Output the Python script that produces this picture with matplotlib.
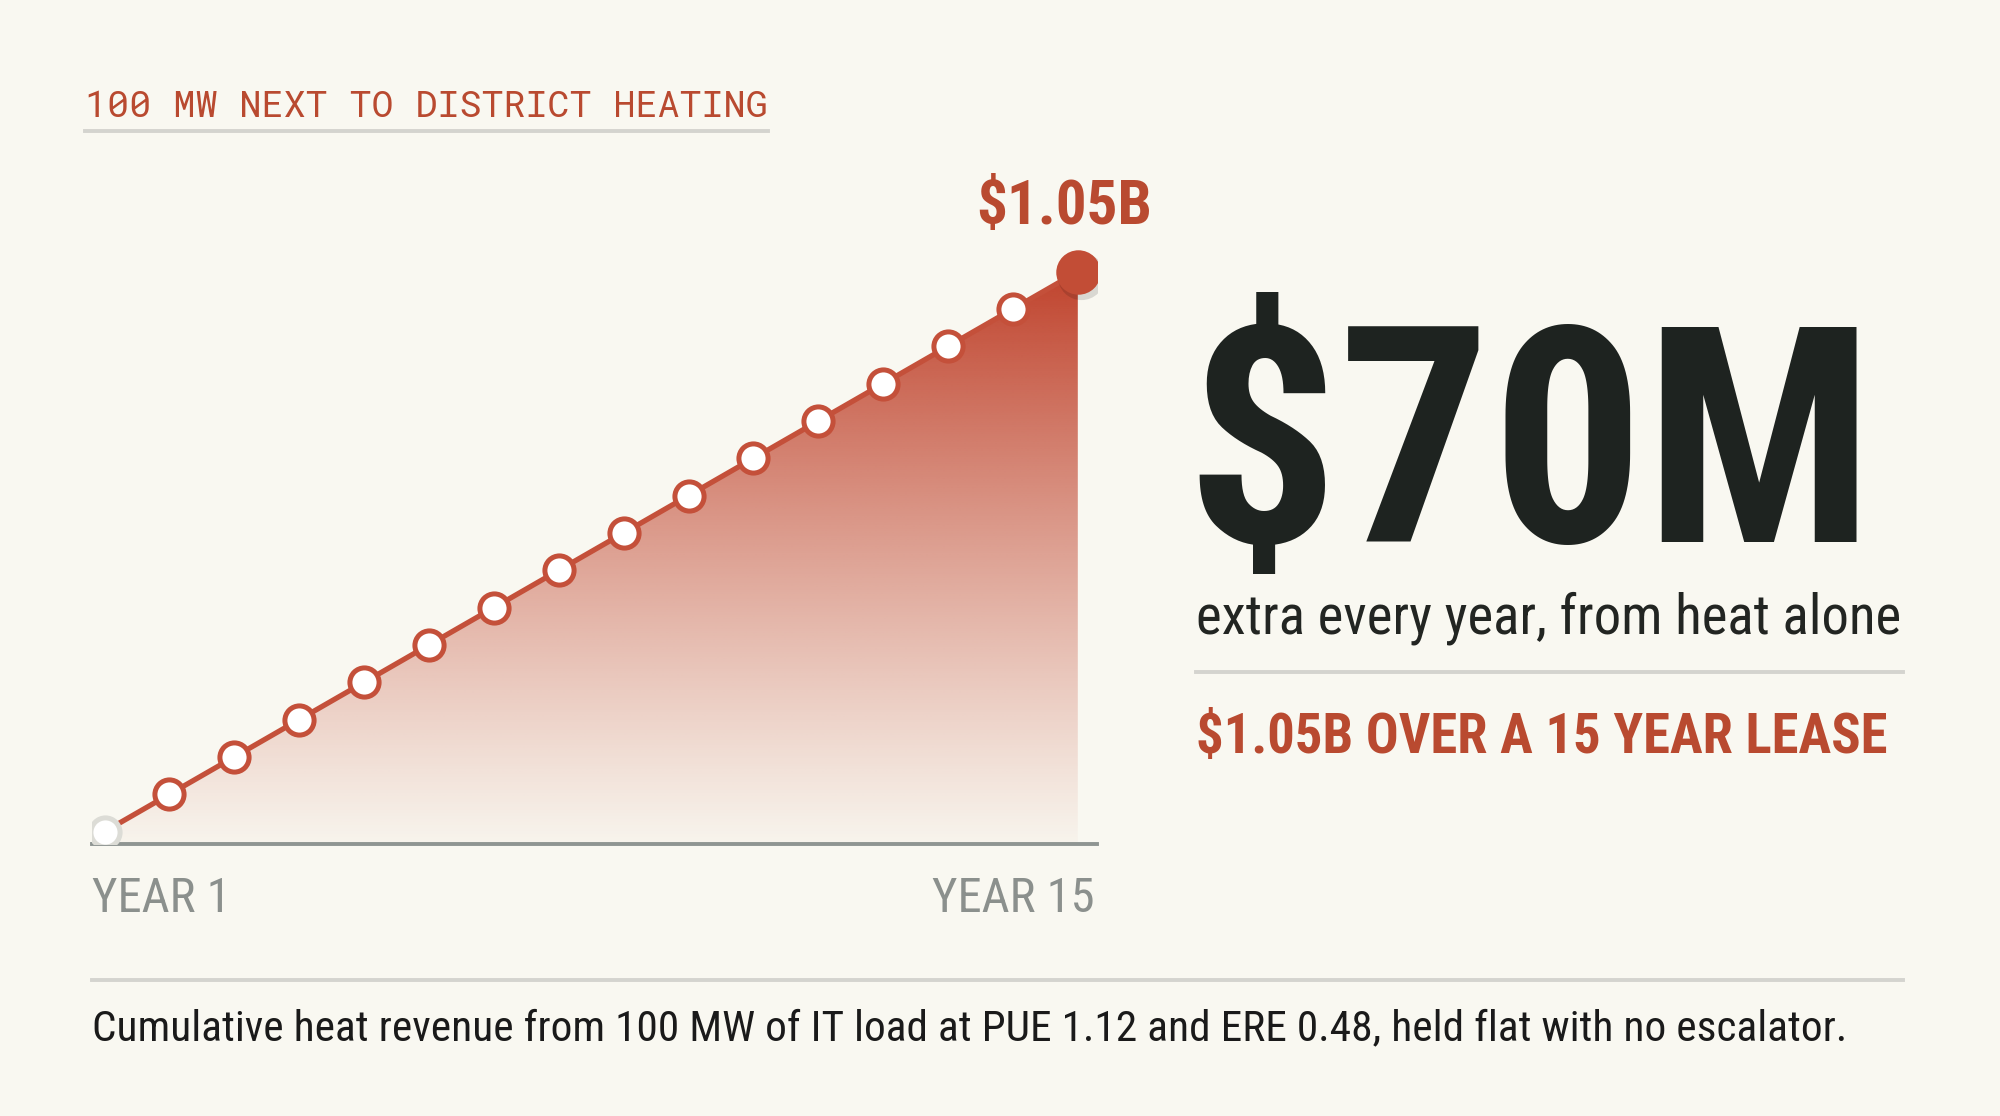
import numpy as np
import matplotlib
matplotlib.use('Agg')
from matplotlib import pyplot as plt
from matplotlib.patches import Polygon
from matplotlib.colors import to_rgb

# data: cumulative heat revenue, $M, year 0..15 (flat $70M per year)
years = list(range(16))
cumulative = [0, 70, 140, 210, 280, 350, 420, 490, 560, 630, 700, 770, 840, 910, 980, 1050]
start_label = 'YEAR 1'
end_label = 'YEAR 15'
end_value_label = '$1.05B'

bg = '#f9f8f1'
red = '#c4503a'
red_text = '#b94a30'
ink = '#1e2320'
grey_line = '#d4d4cf'
grey_text = '#8b908d'

narrow = ['Roboto Condensed', 'Liberation Sans', 'DejaVu Sans']
mono = ['Roboto Mono', 'DejaVu Sans Mono']

W, H = 1568, 875  # layout units (reference view)
fig = plt.figure(figsize=(20, 11.16), dpi=100, facecolor=bg)

def frac(x0, y0, x1, y1):
    return [x0 / W, 1 - y1 / H, (x1 - x0) / W, (y1 - y0) / H]

# chart axes
ax = fig.add_axes(frac(72, 150, 860, 662))
ax.set_facecolor('none')
px_per_year = (845 - 82) / 15
px_per_m = (652 - 213) / 1050
ax.set_xlim(-(82 - 72) / px_per_year, 15 + (860 - 845) / px_per_year)
ymin = -(662 - 652) / px_per_m
ax.set_ylim(ymin, 1050 + (213 - 150) / px_per_m)
for s in ['top', 'right', 'left']:
    ax.spines[s].set_visible(False)
ax.spines['bottom'].set_color('#8f9592')
ax.spines['bottom'].set_linewidth(2.8)
ax.set_xticks([])
ax.set_yticks([])

# gradient fill under the line
poly_pts = [(years[0], ymin)] + list(zip(years, cumulative)) + [(years[-1], ymin)]
poly = Polygon(poly_pts, closed=True, facecolor='none', edgecolor='none')
ax.add_patch(poly)
n = 256
alpha = np.linspace(1.0, 0.04, n) ** 1.15
img = np.zeros((n, 2, 4))
img[:, :, :3] = to_rgb('#c0432d')
img[:, :, 3] = alpha[:, None]
im = ax.imshow(img, extent=[years[0], years[-1], ymin, cumulative[-1]],
               aspect='auto', origin='upper', zorder=1, interpolation='bilinear')
im.set_clip_path(poly)

ax.plot(years, cumulative, color=red, lw=3.8, zorder=3, solid_capstyle='round')
ax.plot(years[1:-1], cumulative[1:-1], 'o', ms=21, mfc='white', mec=red, mew=3.6, zorder=4)
ax.plot(years[0], cumulative[0], 'o', ms=21, mfc='white', mec='#dcdcd6', mew=3.6, zorder=4)
ax.plot(years[-1] + 0.05, cumulative[-1] - 9, 'o', ms=34, color='#00000020', mew=0, zorder=4)
ax.plot(years[-1], cumulative[-1], 'o', ms=32, color='#c24d36', mew=0, zorder=5)

# overlay for text and rules
ov = fig.add_axes([0, 0, 1, 1])
ov.set_xlim(0, W)
ov.set_ylim(H, 0)
ov.axis('off')
ov.set_facecolor('none')

ov.text(67, 92, '100 MW NEXT TO DISTRICT HEATING', family=mono, fontsize=26.5,
        color=red_text, va='baseline', ha='left')
ov.plot([67, 602], [103, 103], color=grey_line, lw=2.8)

ov.text(834, 176, end_value_label, family=narrow, weight='bold', fontsize=44,
        color=red_text, ha='center', va='baseline')

ov.text(72, 715, start_label, family=narrow, fontsize=35, color=grey_text, va='baseline')
ov.text(858, 715, end_label, family=narrow, fontsize=35, color=grey_text, va='baseline', ha='right')

ov.text(929, 425, '$70M', family=narrow, weight='bold', fontsize=218, color=ink, va='baseline')
ov.text(938, 497, 'extra every year, from heat alone', family=narrow, fontsize=39.5,
        color='#222522', va='baseline')
ov.plot([938, 1492], [527, 527], color=grey_line, lw=2.8)
ov.text(938, 590, '$1.05B OVER A 15 YEAR LEASE', family=narrow, weight='bold', fontsize=39.3,
        color=red_text, va='baseline')

ov.plot([72, 1492], [768, 768], color=grey_line, lw=2.8)
ov.text(72, 816, 'Cumulative heat revenue from 100 MW of IT load at PUE 1.12 and ERE 0.48, '
        'held flat with no escalator.', family=narrow, fontsize=31.2, color='#1a1a1a', va='baseline')

fig.savefig('out.png', dpi=100, facecolor=bg)
